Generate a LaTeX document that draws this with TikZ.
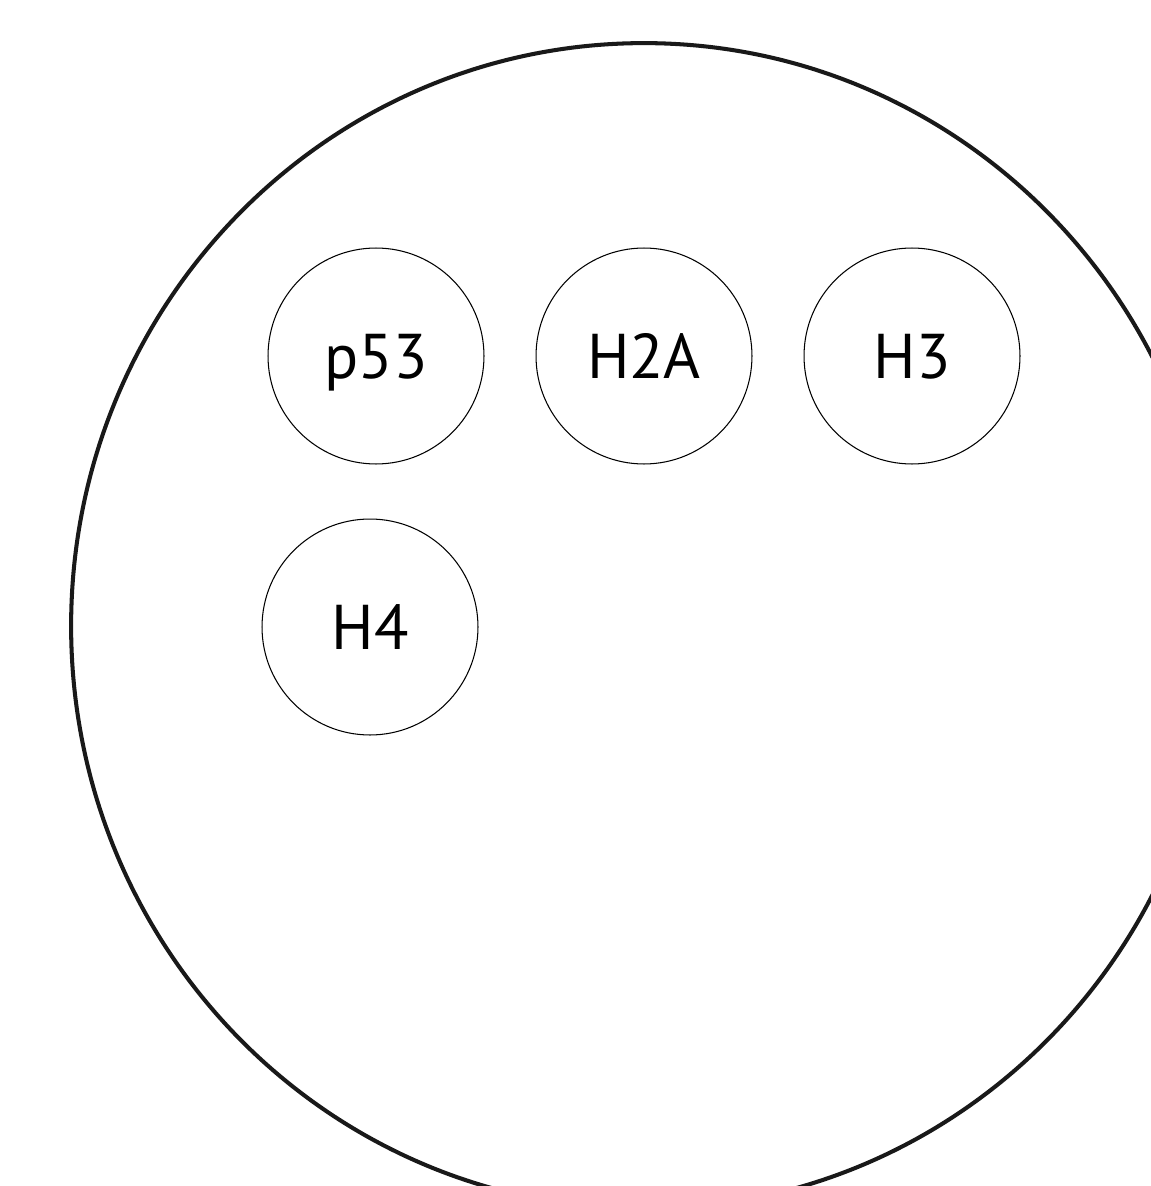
\documentclass[tikz,border=0pt]{standalone}
\usepackage{fontspec}
\setmainfont{PT Sans}

\begin{document}
\begin{tikzpicture}[x=0.02cm, y=-0.02cm, every node/.style={circle, draw, line width=0.6pt, fill=white, minimum size=4.32cm, inner sep=0pt, text depth=0pt, font=\fontsize{36}{40}\selectfont}]
                \useasboundingbox (0,0) rectangle (1151,1186);
                \clip (0,0) rectangle (1151,1186);
                \draw[line width=2.3pt, black!90] (644,626) ellipse [x radius=11.46cm, y radius=11.66cm];
                \node (p53) at (376,356) {p53};
                \node (h2a) at (644,356) {H2A};
                \node (h3) at (912,356) {H3};
                \node (h4) at (370,627) {H4};
                \end{tikzpicture}
\end{document}
